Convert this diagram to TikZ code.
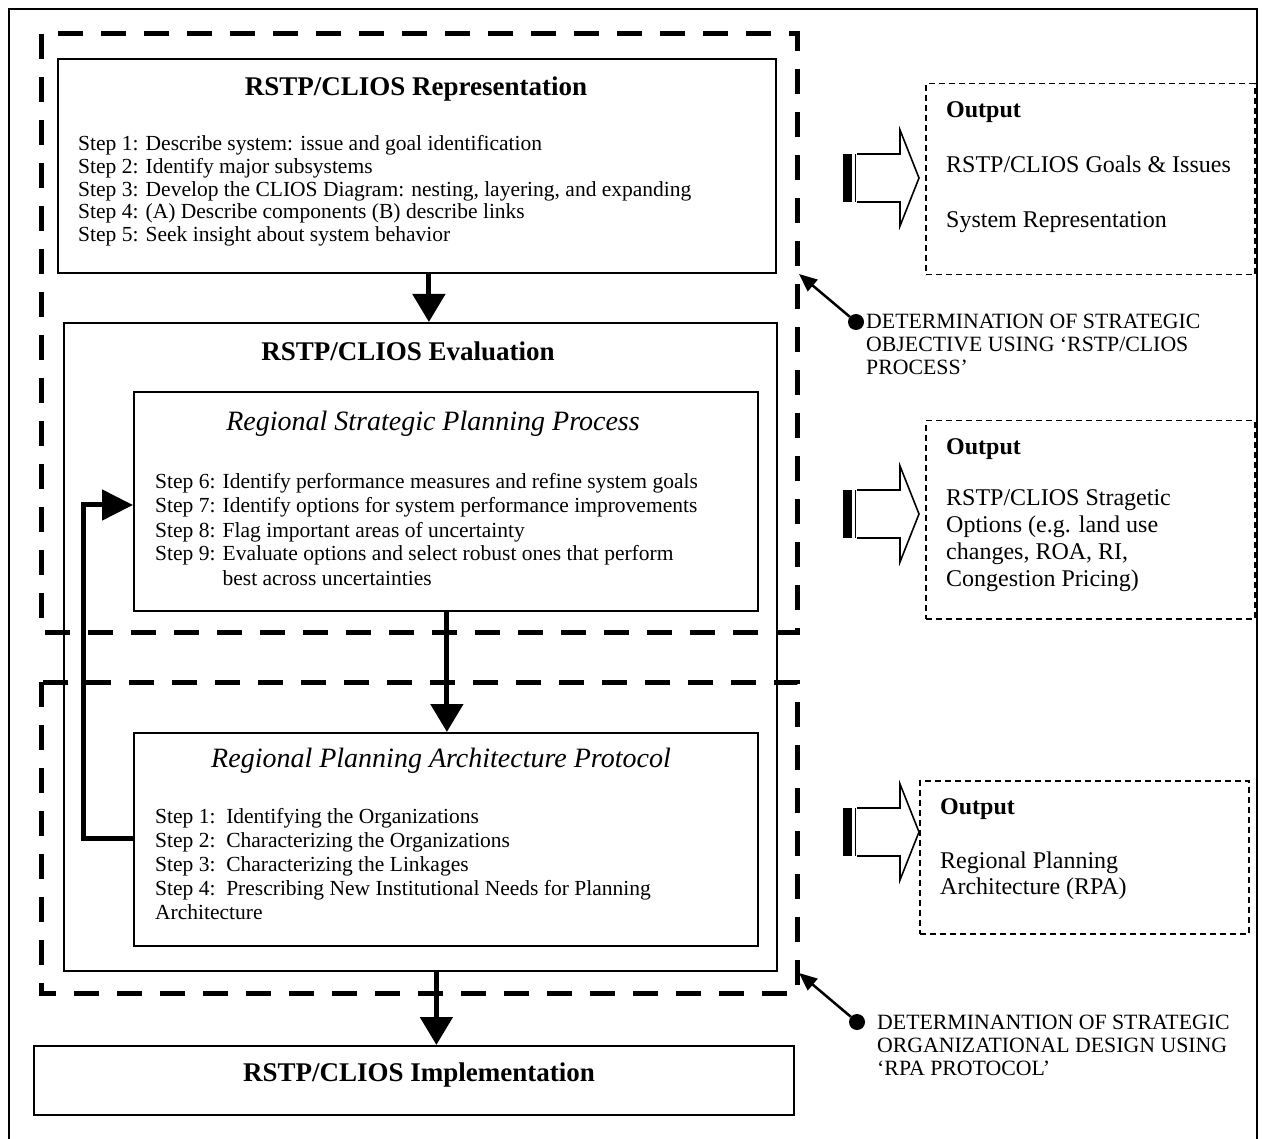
\documentclass[tikz,border=0pt]{standalone}
\usepackage{fontspec}
\setmainfont{Liberation Serif}
\usetikzlibrary{arrows.meta}
\begin{document}
\begin{tikzpicture}[x=1pt,y=-1pt,
  box/.style={draw, line width=1.8pt, anchor=north west, inner sep=0pt},
  outbox/.style={draw, line width=1.5pt, dash pattern=on 6pt off 4pt, anchor=north west, inner sep=0pt},
  phase/.style={line width=5pt, dash pattern=on 25pt off 18pt},
  flow/.style={line width=5pt, -{Triangle[length=28pt,width=32pt]}},
  pointer/.style={line width=2.5pt, -{Triangle[length=18pt,width=15pt]}},
  title/.style={anchor=base, inner sep=0pt, font=\fontsize{27}{30}\selectfont\bfseries},
  subtitle/.style={anchor=base, inner sep=0pt, font=\fontsize{28}{31}\selectfont\itshape},
  steptext/.style={anchor=base west, inner sep=0pt, font=\fontsize{21.5}{23}\selectfont},
  outtext/.style={anchor=base west, inner sep=0pt, font=\fontsize{24}{27}\selectfont},
  outhead/.style={outtext, font=\fontsize{24}{27}\selectfont\bfseries},
  notetext/.style={anchor=base west, inner sep=0pt, font=\fontsize{21.8}{23}\selectfont},
  dot/.style={circle, fill, inner sep=0pt, minimum size=16pt}
]
\useasboundingbox (0,0) rectangle (1262,1139);

% outer frame (open at the bottom)
\draw[line width=2.5pt] (9,1139) -- (9,9) -- (1257,9) -- (1257,1139);

% process boxes
\node[box, minimum width=718pt, minimum height=214pt] (rep) at (57,58) {};
\node[box, minimum width=713pt, minimum height=648pt] (eval) at (63,322) {};
\node[box, minimum width=624pt, minimum height=219pt] (rsp) at (133,391) {};
\node[box, minimum width=624pt, minimum height=213pt] (rpa) at (133,732) {};
\node[box, line width=2.2pt, minimum width=760pt, minimum height=69pt] (impl) at (33,1045) {};

% the two phase frames
\draw[phase] (41,34) rectangle (797,632);
\draw[phase] (41,682) rectangle (797,993);

% titles
\node[title] (repT) at (416,96) {RSTP/CLIOS Representation};
\node[title] (evalT) at (408,361) {RSTP/CLIOS Evaluation};
\node[subtitle] (rspT) at (433,431) {Regional Strategic Planning Process};
\node[subtitle] (rpaT) at (441,767) {Regional Planning Architecture Protocol};
\node[title] (implT) at (419,1081) {RSTP/CLIOS Implementation};

% steps of the representation phase
\foreach \t [count=\i] in {
  {Step 1: Describe system: issue and goal identification},
  {Step 2: Identify major subsystems},
  {Step 3: Develop the CLIOS Diagram: nesting, layering, and expanding},
  {Step 4: (A) Describe components (B) describe links},
  {Step 5: Seek insight about system behavior}}
  \node[steptext] (rep\i) at (78,{151+22.6*(\i-1)}) {\t};

% steps of the strategic planning process
\foreach \t [count=\i] in {
  {Step 6: Identify performance measures and refine system goals},
  {Step 7: Identify options for system performance improvements},
  {Step 8: Flag important areas of uncertainty},
  {Step 9: Evaluate options and select robust ones that perform},
  {\hphantom{Step 9: }best across uncertainties}}
  \node[steptext] (rsp\i) at (155,{489+24*(\i-1)}) {\t};

% steps of the planning architecture protocol
\foreach \t [count=\i] in {
  {Step 1:\ \ Identifying the Organizations},
  {Step 2:\ \ Characterizing the Organizations},
  {Step 3:\ \ Characterizing the Linkages},
  {Step 4:\ \ Prescribing New Institutional Needs for Planning},
  {Architecture}}
  \node[steptext] (rpa\i) at (155,{823+24*(\i-1)}) {\t};

% flow between the phases
\draw[flow] ([xshift=12pt]rep.south) -- ([xshift=12pt]rep.south |- eval.north);
\draw[flow] ([xshift=1pt]rsp.south) -- ([xshift=1pt]rsp.south |- rpa.north);
\draw[flow] ([xshift=16pt]eval.south) -- ([xshift=16pt]eval.south |- impl.north);

% feedback from the protocol to the planning process
\coordinate (fbA) at (83,838);
\coordinate (fbB) at (83,505);
\draw[line width=5pt, -{Triangle[length=31pt,width=30pt]}]
  (rpa.west |- fbA) -- (fbA) -- (fbB) -- (rsp.west |- fbB);

% output boxes
\node[outbox, minimum width=329pt, minimum height=191pt] (out1) at (925,83) {};
\node[outbox, minimum width=329pt, minimum height=198pt] (out2) at (925,420) {};
\node[outbox, minimum width=329pt, minimum height=153pt] (out3) at (919,780) {};

\node[outhead] (o1h) at (946,118) {Output};
\node[outtext] (o1a) at (946,173) {RSTP/CLIOS Goals \& Issues};
\node[outtext] (o1b) at (946,228) {System Representation};

\node[outhead] (o2h) at (946,455) {Output};
\foreach \t [count=\i] in {
  {RSTP/CLIOS Stragetic},
  {Options (e.g. land use},
  {changes, ROA, RI,},
  {Congestion Pricing)}}
  \node[outtext] (o2\i) at (946,{506+26.7*(\i-1)}) {\t};

\node[outhead] (o3h) at (940,814) {Output};
\node[outtext] (o3a) at (940,868) {Regional Planning};
\node[outtext] (o3b) at (940,894) {Architecture (RPA)};

% striped block arrows pointing to the outputs
\foreach \cy [count=\k] in {178,514,832} {
  \fill (843,\cy-24) rectangle (852,\cy+24);
  \draw[line width=1.5pt] (855.5,\cy-24) -- (855.5,\cy+24);
  \draw[line width=1.6pt, line join=miter]
    (857,\cy-24) -- (900,\cy-24) -- (900,\cy-48) -- (919,\cy)
    -- (900,\cy+48) -- (900,\cy+24) -- (857,\cy+24);
}

% annotations of the two phases
\node[dot] (d1) at (856,322) {};
\coordinate (t1) at (799,274);
\draw[pointer] (d1) -- (t1);
\node[notetext] (n1a) at (866,329) {DETERMINATION OF STRATEGIC};
\node[notetext] (n1b) at (866,352) {OBJECTIVE USING `RSTP/CLIOS};
\node[notetext] (n1c) at (866,375) {PROCESS'};

\node[dot] (d2) at (857,1022) {};
\coordinate (t2) at (799,973);
\draw[pointer] (d2) -- (t2);
\node[notetext] (n2a) at (877,1029) {DETERMINANTION OF STRATEGIC};
\node[notetext] (n2b) at (877,1052) {ORGANIZATIONAL DESIGN USING};
\node[notetext] (n2c) at (877,1075) {`RPA PROTOCOL'};
\end{tikzpicture}
\end{document}
